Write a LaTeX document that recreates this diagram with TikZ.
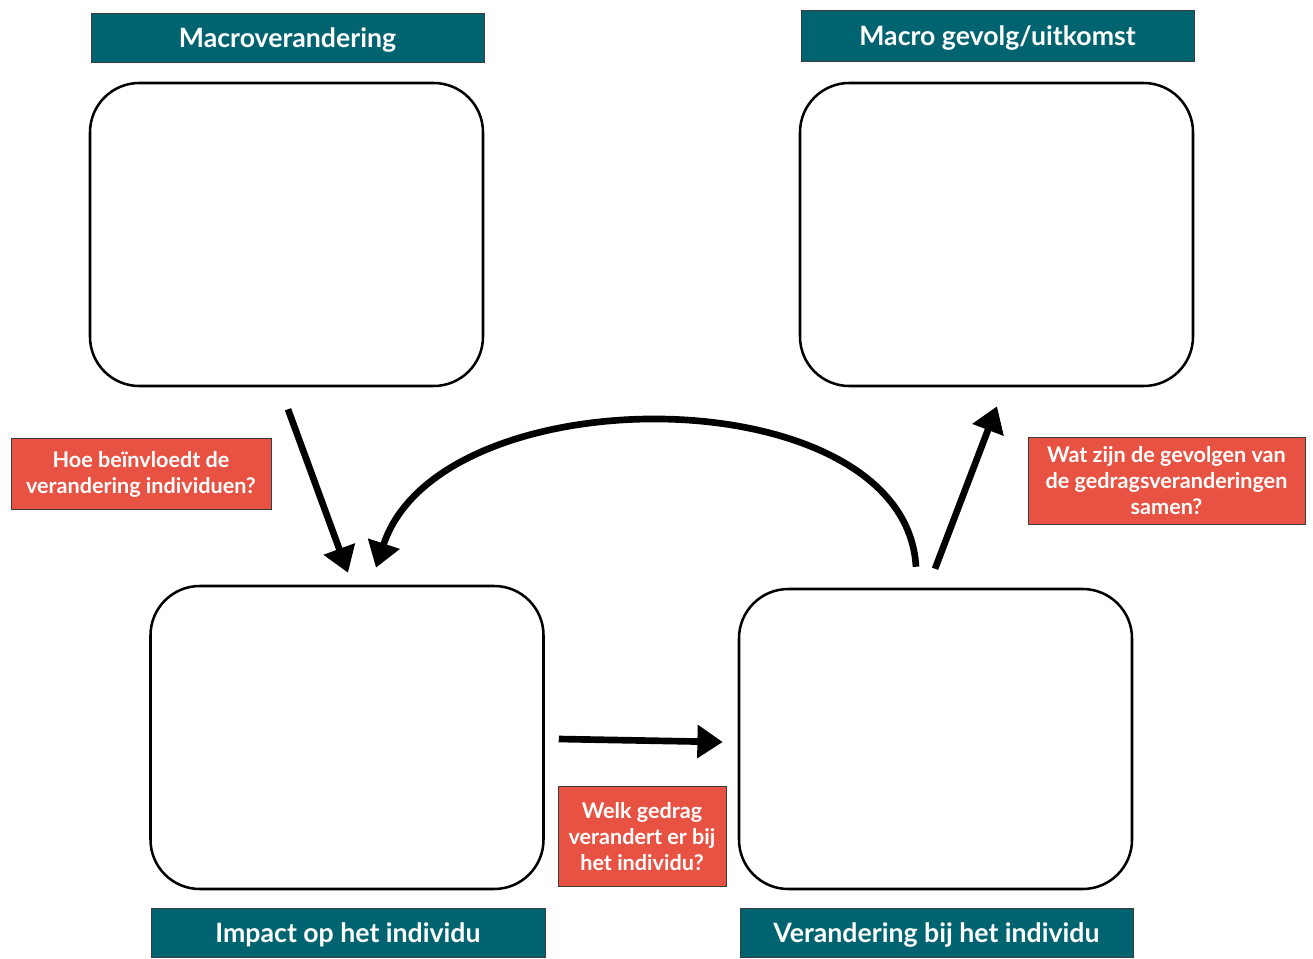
\documentclass[tikz,border=0pt]{standalone}
\usepackage{fontspec}
\setmainfont{Lato}
\definecolor{kopteal}{RGB}{0,99,112}
\definecolor{vraagrood}{RGB}{232,82,67}
\definecolor{randgrijs}{RGB}{60,60,60}
\usetikzlibrary{arrows.meta,positioning,calc}

\begin{document}
\begin{tikzpicture}[x=0.75pt, y=-0.75pt,
  vak/.style={draw=black, line width=1.9pt, rounded corners=37pt, fill=white,
    minimum width=294.75pt, minimum height=227.25pt, inner sep=0pt},
  kop/.style={draw=randgrijs, line width=0.6pt, fill=kopteal, text=white,
    font=\fontsize{20}{24}\selectfont\bfseries, minimum width=294.75pt,
    minimum height=37pt, inner sep=0pt, text height=14.5pt, text depth=0.5pt},
  vraag/.style={draw=randgrijs, line width=0.6pt, fill=vraagrood, text=white,
    font=\fontsize{16.2}{19.5}\selectfont\bfseries, align=center, inner sep=0pt},
  pijl/.style={line width=5pt, -{Triangle[length=19pt,width=24pt]}}]
  \useasboundingbox (0,0) rectangle (1313,959);

  % vakken
  \node[vak] (macro) at (286.5,234.5) {};
  \node[vak] (gevolg) at (996.5,234.5) {};
  \node[vak] (impact) at (347,737.5) {};
  \node[vak, minimum height=225pt] (gedrag) at (935.5,739) {};

  % koppen
  \node[kop] (kopmacro) at (287.5,38) {Macroverandering};
  \node[kop, minimum height=38.25pt] (kopgevolg) at (997.5,36) {Macro gevolg/uitkomst};
  \node[kop, minimum width=295.5pt] (kopimpact) at (348,933) {Impact op het individu};
  \node[kop] (kopgedrag) at (936.5,933) {Verandering bij het individu};

  % vragen
  \node[vraag, minimum width=195pt, minimum height=53.25pt] (vraag1) at (141,474)
    {Hoe beïnvloedt de\\verandering individuen?};
  \node[vraag, minimum width=207.75pt, minimum height=65.25pt] (vraag2) at (1166.5,481)
    {Wat zijn de gevolgen van\\de gedragsveranderingen\\samen?};
  \node[vraag, minimum width=126pt, minimum height=75pt] (vraag3) at (642,836.5)
    {Welk gedrag\\verandert er bij\\het individu?};

  % pijlen
  \draw[pijl] ($(macro.south)+(1.5,22)$) -- ($(impact.north)+(1,-12)$);
  \draw[pijl] ($(impact.east)+(14,1.5)$) -- ($(gedrag.west)+(-15,3)$);
  \draw[pijl] ($(gedrag.north)+(-0.5,-19)$) -- ($(gevolg.south)+(0.5,19)$);
  \coordinate (terugA) at ($(gedrag.north)+(-19.5,-21)$);
  \coordinate (terugB) at ($(impact.north)+(29,-17)$);
  \draw[pijl] (terugA) .. controls (905,375) and (440,372) .. (terugB);
\end{tikzpicture}
\end{document}
